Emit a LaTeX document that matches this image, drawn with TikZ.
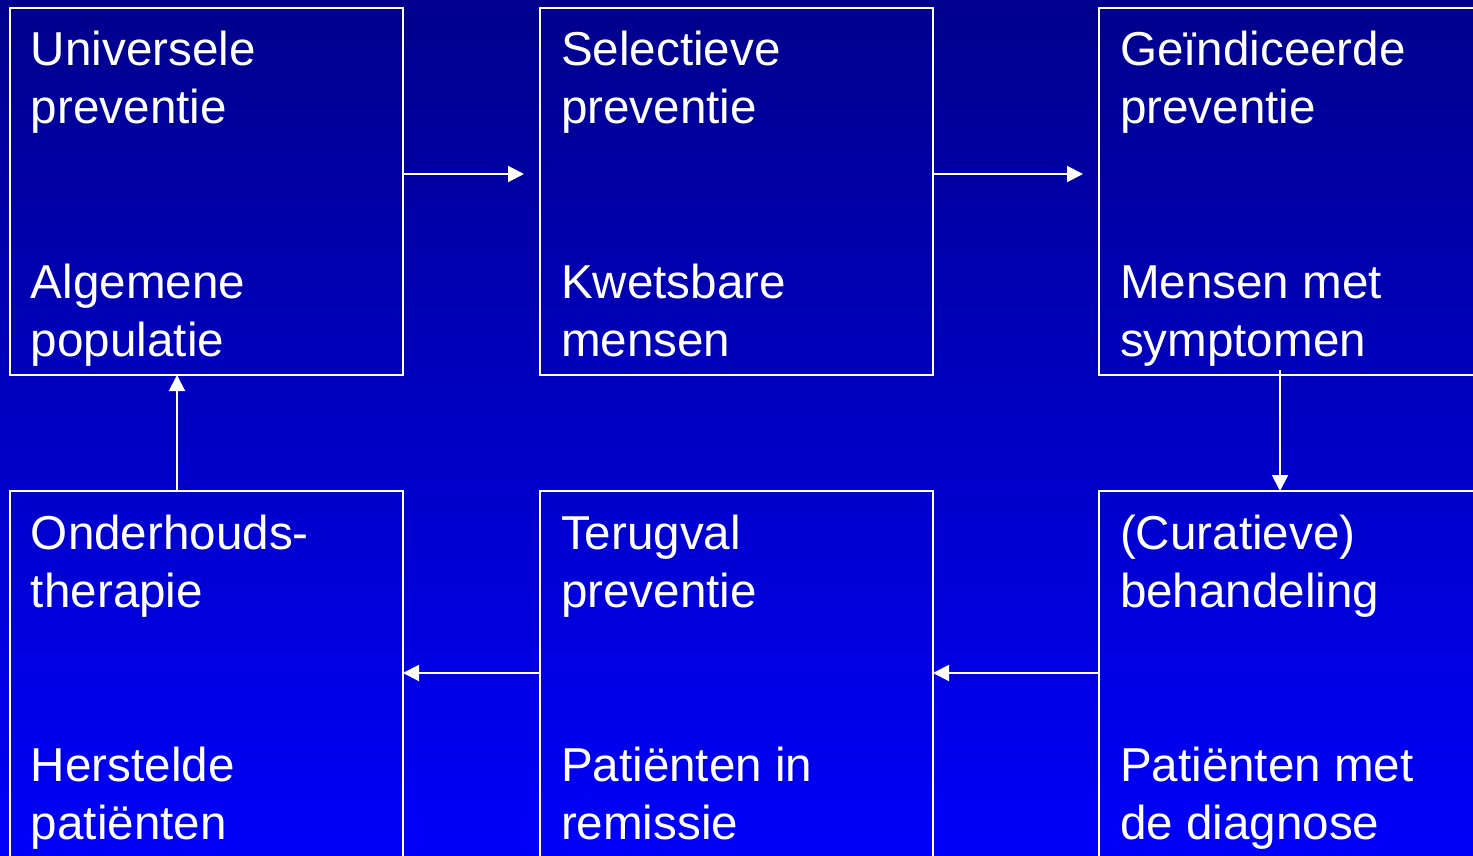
\documentclass[tikz,border=0pt]{standalone}
\usepackage{fontspec}
\setmainfont{Liberation Sans}
\usetikzlibrary{arrows.meta}
\definecolor{bgtop}{RGB}{0,0,140}
\definecolor{bgbot}{RGB}{0,0,250}
\tikzset{
  box/.style={draw=white, line width=1pt, rectangle, minimum width=196.5pt, minimum height=183.5pt, inner sep=0pt, outer sep=0pt, anchor=north west},
  txt/.style={text=white, anchor=base west, inner sep=0pt, outer sep=0pt, font=\fontsize{23.8pt}{29pt}\selectfont},
  arr/.style={draw=white, line width=1pt, -{Triangle[length=8pt,width=8pt]}}
}
\begin{document}
\begin{tikzpicture}[x=0.5pt,y=-0.5pt]
\useasboundingbox (0,0) rectangle (1473,856);
\clip (0,0) rectangle (1473,856);
\shade[top color=bgtop, bottom color=bgbot] (0,0) rectangle (1473,856);
% boxes
\node[box] (b1) at (10,8) {};
\node[box] (b2) at (540,8) {};
\node[box] (b3) at (1099,8) {};
\node[box] (b4) at (10,491) {};
\node[box] (b5) at (540,491) {};
\node[box] (b6) at (1099,491) {};
% texts top row
\node[txt] (t11) at (31,66) {Universele};
\node[txt] (t12) at (31,124) {preventie};
\node[txt] (t13) at (31,298) {Algemene};
\node[txt] (t14) at (31,356) {populatie};
\node[txt] (t21) at (561,66) {Selectieve};
\node[txt] (t22) at (561,124) {preventie};
\node[txt] (t23) at (561,298) {Kwetsbare};
\node[txt] (t24) at (561,356) {mensen};
\node[txt] (t31) at (1120,66) {Geïndiceerde};
\node[txt] (t32) at (1120,124) {preventie};
\node[txt] (t33) at (1120,298) {Mensen met};
\node[txt] (t34) at (1120,356) {symptomen};
% texts bottom row
\node[txt] (t41) at (31,549) {Onderhouds-};
\node[txt] (t42) at (31,607) {therapie};
\node[txt] (t43) at (31,781) {Herstelde};
\node[txt] (t44) at (31,839) {patiënten};
\node[txt] (t51) at (561,549) {Terugval};
\node[txt] (t52) at (561,607) {preventie};
\node[txt] (t53) at (561,781) {Patiënten in};
\node[txt] (t54) at (561,839) {remissie};
\node[txt] (t61) at (1120,549) {(Curatieve)};
\node[txt] (t62) at (1120,607) {behandeling};
\node[txt] (t63) at (1120,781) {Patiënten met};
\node[txt] (t64) at (1120,839) {de diagnose};
% connectors
\draw[arr] ([yshift=8.75pt]b1.east) -- ([xshift=-8pt,yshift=8.75pt]b2.west);
\draw[arr] ([yshift=8.75pt]b2.east) -- ([xshift=-8pt,yshift=8.75pt]b3.west);
\draw[arr] ([xshift=-7.75pt,yshift=2.5pt]b3.south) -- ([xshift=-7.75pt]b6.north);
\draw[arr] ([yshift=0.75pt]b6.west) -- ([yshift=0.75pt]b5.east);
\draw[arr] ([yshift=0.75pt]b5.west) -- ([yshift=0.75pt]b4.east);
\draw[arr] ([xshift=-14.75pt]b4.north) -- ([xshift=-14.75pt]b1.south);
\end{tikzpicture}
\end{document}
